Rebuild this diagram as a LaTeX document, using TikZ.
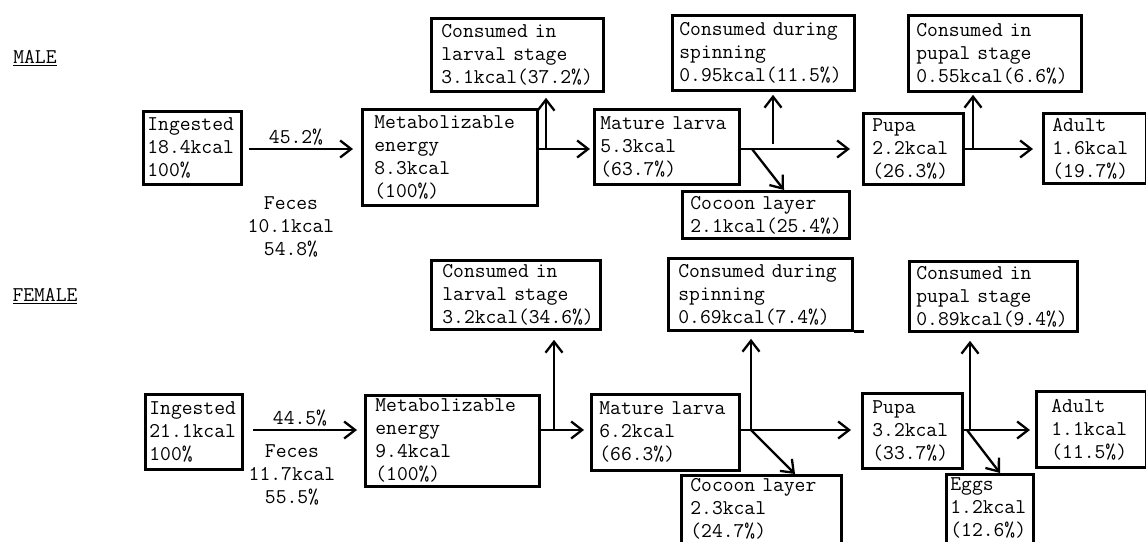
\documentclass[tikz,border=0pt]{standalone}
\usetikzlibrary{arrows.meta,calc}
\newcommand\tyf{\ttfamily\fontsize{21}{23}\selectfont}
\newcommand\mybox[7]{%
  \pgfmathsetmacro\mytw{#4-2*#6}%
  \node[box, minimum width=#4pt, minimum height=#5pt, inner xsep=#6pt, text width=\mytw pt] (#1) at (#2,#3) {#7};}
\newcommand\lowpad{\rule[-7pt]{0pt}{0pt}}
\begin{document}
\begin{tikzpicture}[x=1pt,y=-1pt,
  box/.style={draw, line width=2.8pt, anchor=north west, align=left, inner ysep=0pt, font=\tyf},
  arr/.style={line width=2.3pt, -{Straight Barb[length=11pt,width=17pt,line width=2.3pt]}},
  lbl/.style={font=\tyf, inner sep=0pt, align=center},
  ttl/.style={font=\tyf, inner sep=0pt}]
\useasboundingbox[fill=white] (0,0) rectangle (1146,541);

% ---------- MALE ----------
\node[ttl] (male) at (35,58) {\underline{MALE}};
\mybox{ingM}{142}{110}{98}{73}{4}{Ingested\\18.4kcal\\100\%}
\mybox{metM}{361}{108}{175}{96}{12}{Metabolizable\\energy\\8.3kcal\\(100\%)}
\mybox{conLM}{430}{17}{172}{73}{10}{Consumed in\\larval stage\\3.1kcal(37.2\%)}
\mybox{matM}{593}{108}{145}{75}{6}{Mature larva\\5.3kcal\\(63.7\%)}
\mybox{conSM}{671}{14}{182}{75}{7}{Consumed during\\spinning\\0.95kcal(11.5\%)}
\mybox{cocM}{681}{190}{167}{47}{8}{Cocoon layer\\2.1kcal(25.4\%)}
\mybox{pupM}{862}{112}{100}{71}{9}{Pupa\\2.2kcal\\(26.3\%)}
\mybox{conPM}{907}{14}{173}{76}{8}{Consumed in\\pupal stage\\0.55kcal(6.6\%)}
\mybox{adM}{1042}{112}{103}{70}{9}{Adult\\1.6kcal\\(19.7\%)}
\node[lbl] (pcM) at (296,137) {45.2\%};
\node[lbl] (feM) at (291,227) {Feces\\10.1kcal\\54.8\%};

\coordinate (rM) at (0,149);
\coordinate (jM1) at (546,149);
\coordinate (jM2) at (773,144);
\coordinate (jM3) at (752,149);
\coordinate (jM4) at (973,149);
\draw[arr, shorten <=6pt, shorten >=8pt] (ingM.east |- rM) -- (metM.west |- rM);
\draw[arr, shorten >=3pt] (metM.east |- rM) -- (matM.west |- rM);
\draw[arr, shorten >=5pt] (jM1) -- (jM1 |- conLM.south);
\draw[arr, shorten >=12pt] (matM.east |- rM) -- (pupM.west |- rM);
\draw[arr, shorten >=3pt] (jM2) -- (jM2 |- conSM.south);
\draw[arr] (jM3) -- ($(cocM.north west)+(103,0)$);
\draw[arr, shorten >=9pt] (pupM.east |- rM) -- (adM.west |- rM);
\draw[arr, shorten >=2pt] (jM4) -- (jM4 |- conPM.south);

% ---------- FEMALE ----------
\node[ttl] (female) at (45,296) {\underline{FEMALE}};
\mybox{conLF}{430}{259}{169}{69}{11}{Consumed in\\larval stage\\3.2kcal(34.6\%)}
\mybox{ingF}{144}{393}{97}{75}{4}{Ingested\\21.1kcal\\100\%}
\mybox{metF}{364}{394}{174}{91}{10}{Metabolizable\\energy\\9.4kcal\\(100\%)}
\mybox{matF}{590}{393}{148}{76}{8}{Mature larva\\6.2kcal\\(66.3\%)}
\mybox{conSF}{667}{257}{184}{72}{10}{Consumed during\\spinning\\0.69kcal(7.4\%)}
\mybox{cocF}{680}{474}{160}{72}{9}{Cocoon layer\\2.3kcal\\(24.7\%)\lowpad}
\mybox{pupF}{861}{392}{100}{75}{10}{Pupa\\3.2kcal\\(33.7\%)}
\mybox{conPF}{908}{260}{168}{70}{7}{Consumed in\\pupal stage\\0.89kcal(9.4\%)}
\mybox{eggF}{945}{473}{87}{72}{4}{Eggs\\1.2kcal\\(12.6\%)\lowpad}
\mybox{adF}{1035}{390}{110}{76}{15}{Adult\\1.1kcal\\(11.5\%)}
\node[lbl] (pcF) at (300,418) {44.5\%};
\node[lbl] (feF) at (292,475) {Feces\\11.7kcal\\55.5\%};
\draw[line width=2.8pt] (conSF.south east) -- ++(10,0);

\coordinate (rF) at (0,430);
\coordinate (jF1) at (554,430);
\coordinate (jF2) at (751,430);
\coordinate (jF3) at (970,430);
\coordinate (jF4) at (967,430);
\draw[arr, shorten <=9pt, shorten >=7pt] (ingF.east |- rF) -- (metF.west |- rF);
\draw[arr, shorten >=6pt] (metF.east |- rF) -- (matF.west |- rF);
\draw[arr, shorten >=9pt] (jF1) -- (jF1 |- conLF.south);
\draw[arr, shorten >=10pt] (matF.east |- rF) -- (pupF.west |- rF);
\draw[arr, shorten >=7pt] (jF2) -- (jF2 |- conSF.south);
\draw[arr] (jF2) -- ($(cocF.north west)+(115,0)$);
\draw[arr, shorten >=5pt] (pupF.east |- rF) -- (adF.west |- rF);
\draw[arr, shorten >=8pt] (jF3) -- (jF3 |- conPF.south);
\draw[arr] (jF4) -- ($(eggF.north west)+(55,0)$);
\end{tikzpicture}
\end{document}
